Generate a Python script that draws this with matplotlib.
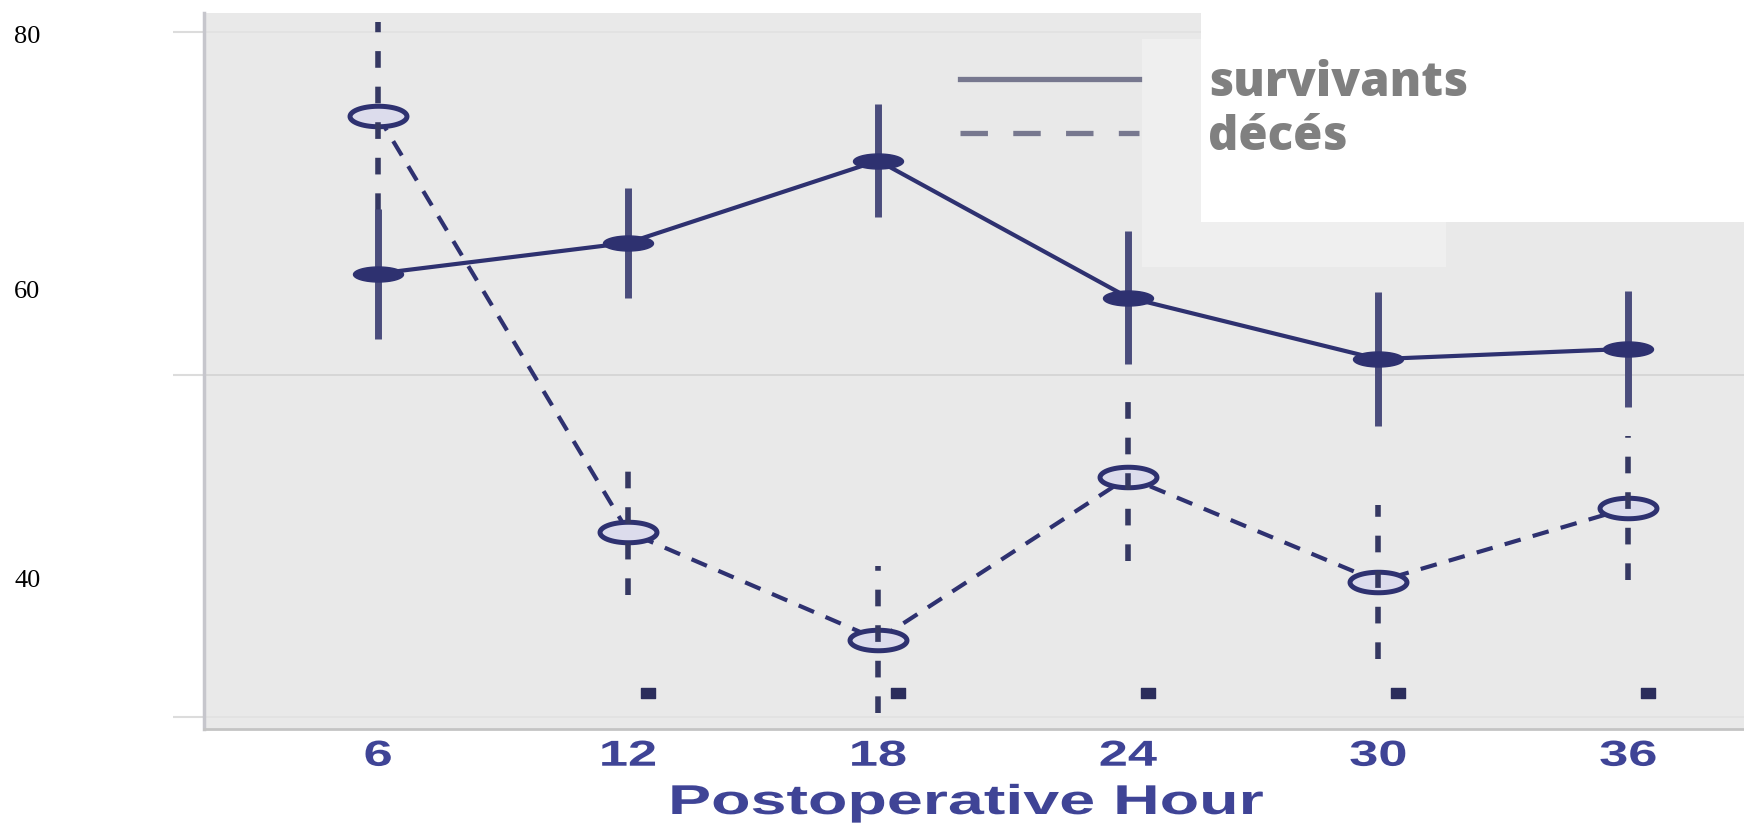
import numpy as np
import matplotlib
matplotlib.use("Agg")
import matplotlib.pyplot as plt
from matplotlib.path import Path
from matplotlib.transforms import Affine2D, ScaledTranslation
from matplotlib.patheffects import AbstractPathEffect
from matplotlib.lines import Line2D
from matplotlib.patches import Rectangle
from matplotlib.font_manager import FontProperties

# ---- data -------------------------------------------------------------
hours = [6, 12, 18, 24, 30, 36]
survivants = [65.9, 67.7, 72.5, 64.5, 60.9, 61.5]
survivants_err = [3.8, 3.2, 3.3, 3.9, 3.9, 3.4]
deces = [75.1, 50.8, 44.5, 54.0, 47.9, 52.2]
deces_err = [5.5, 3.7, 4.3, 4.9, 4.5, 4.2]
signif_hours = [12, 18, 24, 30, 36]
signif_level = [41.4, 41.4, 41.4, 41.4, 41.4]

x_tick_labels = ["6", "12", "18", "24", "30", "36"]
y_grid_values = [40, 60, 80]
y_label_texts = ["80", "60", "40"]
series_labels = ["survivants", "décés"]
x_title = "Postoperative Hour"

# ---- layout (pixels of a 1744 x 826 canvas) ---------------------------
W, H = 1744, 826
ax_left, ax_right, ax_top, ax_bottom = 204, 1744, 13, 729
y_label_px = [37, 292.5, 581]

NAVY = "#2e3170"
ERR_SOLID = "#4a4c7c"
ERR_DASH = "#353862"
TICK_BLUE = "#3f4496"


class HStretch(AbstractPathEffect):
    """Widen rendered glyphs horizontally about their centre."""

    def __init__(self, sx):
        super().__init__()
        self.sx = sx

    def draw_path(self, renderer, gc, tpath, affine, rgbFace=None):
        ext = tpath.get_extents(affine)
        cx = 0.5 * (ext.x0 + ext.x1)
        stretched = affine + Affine2D().translate(-cx, 0).scale(self.sx, 1).translate(cx, 0)
        renderer.draw_path(gc, tpath, stretched, rgbFace)


def ellipse_marker(aspect):
    t = np.linspace(0, 2 * np.pi, 64)
    verts = np.column_stack([np.cos(t), aspect * np.sin(t)])
    return Path(verts, closed=True)


rect_marker = Path([(-1, -0.65), (1, -0.65), (1, 0.65), (-1, 0.65), (-1, -0.65)], closed=True)

fig = plt.figure(figsize=(W / 100, H / 100), dpi=100, facecolor="white")
ax = fig.add_axes([ax_left / W, 1 - ax_bottom / H,
                   (ax_right - ax_left) / W, (ax_bottom - ax_top) / H])
ax.set_facecolor("#e9e9e9")

# ---- series -----------------------------------------------------------
ax.plot(hours, deces, color=NAVY, lw=3, dashes=(4.0, 3.0), zorder=2)
ax.plot(hours, deces, ls="none", marker=ellipse_marker(0.36), ms=41,
        mfc="#dcdcec", mec=NAVY, mew=3.6, zorder=3)
eb_d = ax.errorbar(hours, deces, yerr=deces_err, fmt="none", ecolor=ERR_DASH,
                   elinewidth=4, capsize=0, zorder=3.2)
eb_d[2][0].set_linestyle((0, (3.0, 3.4)))

ax.plot(hours, survivants, color=NAVY, lw=3, zorder=2.5)
ax.errorbar(hours, survivants, yerr=survivants_err, fmt="none", ecolor=ERR_SOLID,
            elinewidth=5, capsize=0, zorder=3.4)
ax.plot(hours, survivants, ls="none", marker=ellipse_marker(0.3), ms=36,
        color=NAVY, zorder=3.6)

# significance markers sit just right of each hour
shift = ax.transData + ScaledTranslation(0.2, 0, fig.dpi_scale_trans)
ax.plot(signif_hours, signif_level, ls="none", marker=rect_marker, ms=10.5,
        color="#2b2d5c", transform=shift, zorder=3)

# ---- axes -------------------------------------------------------------
ax.set_xlim(1.82, 38.78)
ax.set_ylim(39.28, 81.13)
ax.set_xticks(hours)
ax.set_xticklabels(x_tick_labels, fontfamily="Liberation Sans",
                   fontweight="bold", fontsize=26, color=TICK_BLUE)
ax.tick_params(axis="x", length=0, pad=7)
ax.set_yticks(y_grid_values)
ax.tick_params(axis="y", length=22, width=1.5, color="#dcdcdc", labelleft=False)
ax.yaxis.grid(True, color="#d5d5d5", lw=1.3)
ax.set_axisbelow(True)
for val, gl in zip(y_grid_values, ax.get_ygridlines()):
    if val != 60:
        gl.set_color("#e2e2e2")
for lab in ax.get_xticklabels():
    lab.set_path_effects([HStretch(1.45)])

ax.set_xlabel(x_title, fontfamily="Liberation Sans", fontweight="bold",
              fontsize=30, color=TICK_BLUE)
ax.xaxis.set_label_coords(0.495, -(783 - ax_bottom) / (ax_bottom - ax_top))
ax.xaxis.label.set_path_effects([HStretch(1.55)])

for side in ("top", "right"):
    ax.spines[side].set_visible(False)
ax.spines["left"].set_color("#c6c6cc")
ax.spines["left"].set_linewidth(2.5)
ax.spines["bottom"].set_color("#c4c4c4")
ax.spines["bottom"].set_linewidth(2)

for txt, ypx in zip(y_label_texts, y_label_px):
    fig.text(14 / W, 1 - ypx / H, txt, ha="left", va="center",
             fontfamily="Liberation Serif", fontsize=19, color="black")

# ---- panels behind the key --------------------------------------------
fig.add_artist(Rectangle((1142 / W, 1 - 267 / H), (1446 - 1142) / W, (267 - 39) / H,
                         transform=fig.transFigure, facecolor="#efefef",
                         edgecolor="none", zorder=1))
fig.add_artist(Rectangle((1201 / W, 1 - 222 / H), (W - 1201) / W, 222 / H + 0.01,
                         transform=fig.transFigure, facecolor="white",
                         edgecolor="none", zorder=1.5))

key_solid = Line2D([], [], color="#77788f", lw=3.8)
key_dash = Line2D([], [], color="#77788f", lw=3.8, dashes=(5.2, 4.8))
leg = fig.legend(handles=[key_solid, key_dash], labels=series_labels,
                 loc="upper left", bbox_to_anchor=(960 / W, 1 - 60 / H),
                 bbox_transform=fig.transFigure, frameon=False, borderpad=0,
                 borderaxespad=0, handlelength=3.8, handletextpad=1.46,
                 labelspacing=0.12,
                 prop=FontProperties(family="Open Sans", weight=800, size=34),
                 labelcolor="#808080")
leg.set_zorder(10)

fig.savefig("out.png", dpi=100, facecolor="white")
